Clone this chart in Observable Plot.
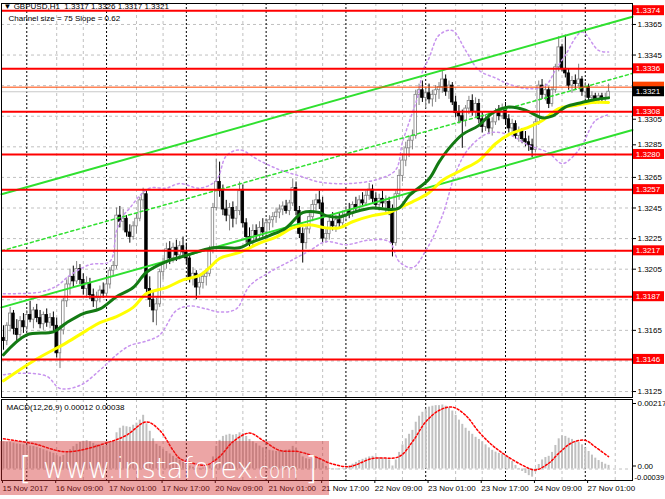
<!DOCTYPE html>
<html>
<head>
<meta charset="utf-8">
<script src="https://cdn.jsdelivr.net/npm/d3@7"></script>
<script src="https://cdn.jsdelivr.net/npm/@observablehq/plot@0.6"></script>
<style>
  body { margin: 0; background: #fff; }
  #chart { position: relative; width: 665px; height: 499px; overflow: hidden; font-family: "Liberation Sans", Arial, sans-serif; }
  #chart > div { position: absolute; left: 0; }
  #main { top: 0; }
  #macd { top: 397px; }
  #mark { top: 441px; width: 329px; height: 54px; background: rgba(210, 40, 40, 0.42); }
  #mark text { fill: #fff; font-family: "DejaVu Sans", sans-serif; font-weight: 200; }
</style>
</head>
<body>
<div id="chart">
  <div id="main"></div>
  <div id="macd"></div>
  <div id="mark">
    <svg width="329" height="54">
      <text y="37"><tspan x="19" y="38" font-size="32">[</tspan><tspan x="43" y="37" font-size="29" textLength="210" lengthAdjust="spacingAndGlyphs">www.instaforex</tspan><tspan x="253" font-size="22" textLength="45" lengthAdjust="spacingAndGlyphs">.com</tspan><tspan x="305" y="38" font-size="32">]</tspan></text>
    </svg>
  </div>
</div>
<script>
// GBPUSD H1, bar 0 = 15 Nov 2017 17:00 ... bar 182 = 27 Nov 07:00
const open = [
  1.3160,1.3158,1.3168,1.3176,1.3166,1.3162,1.3171,1.3167,1.3175,1.3172,
  1.3178,1.3173,1.3169,1.3175,1.3170,1.3173,1.3168,1.3150,1.3165,1.3184,
  1.3195,1.3200,1.3197,1.3205,1.3198,1.3192,1.3196,1.3188,1.3184,1.3186,
  1.3191,1.3189,1.3195,1.3204,1.3207,1.3240,1.3236,1.3238,1.3229,1.3226,
  1.3233,1.3238,1.3250,1.3254,1.3192,1.3185,1.3178,1.3182,1.3203,1.3209,
  1.3218,1.3212,1.3219,1.3214,1.3220,1.3216,1.3212,1.3199,1.3202,1.3193,
  1.3196,1.3200,1.3202,1.3218,1.3245,1.3262,1.3256,1.3244,1.3240,1.3245,
  1.3238,1.3243,1.3256,1.3235,1.3226,1.3222,1.3230,1.3227,1.3232,1.3229,
  1.3235,1.3237,1.3239,1.3242,1.3244,1.3246,1.3243,1.3248,1.3258,1.3243,
  1.3228,1.3222,1.3231,1.3239,1.3247,1.3250,1.3248,1.3225,1.3228,1.3236,
  1.3233,1.3237,1.3235,1.3240,1.3243,1.3241,1.3247,1.3245,1.3250,1.3248,
  1.3253,1.3257,1.3251,1.3247,1.3251,1.3248,1.3249,1.3244,1.3222,1.3254,
  1.3266,1.3276,1.3284,1.3289,1.3292,1.3319,1.3322,1.3317,1.3320,1.3316,
  1.3319,1.3322,1.3324,1.3329,1.3321,1.3325,1.3314,1.3307,1.3305,1.3302,
  1.3310,1.3315,1.3308,1.3313,1.3303,1.3298,1.3303,1.3297,1.3301,1.3307,
  1.3305,1.3310,1.3303,1.3297,1.3300,1.3292,1.3295,1.3290,1.3288,1.3286,
  1.3283,1.3301,1.3325,1.3319,1.3322,1.3313,1.3322,1.3337,1.3350,1.3336,
  1.3333,1.3325,1.3328,1.3326,1.3329,1.3321,1.3324,1.3317,1.3318,1.3315,
  1.3318,1.3316,1.3317
]
const high = [
  1.3168,1.3170,1.3180,1.3178,1.3172,1.3174,1.3176,1.3178,1.3184,1.3180,
  1.3182,1.3178,1.3177,1.3179,1.3176,1.3177,1.3173,1.3168,1.3186,1.3198,
  1.3205,1.3207,1.3210,1.3208,1.3202,1.3200,1.3199,1.3192,1.3190,1.3194,
  1.3196,1.3198,1.3206,1.3210,1.3245,1.3246,1.3244,1.3240,1.3234,1.3236,
  1.3241,1.3252,1.3258,1.3256,1.3200,1.3190,1.3186,1.3205,1.3212,1.3222,
  1.3223,1.3222,1.3224,1.3223,1.3226,1.3222,1.3214,1.3206,1.3204,1.3200,
  1.3203,1.3205,1.3220,1.3248,1.3277,1.3275,1.3260,1.3250,1.3248,1.3249,
  1.3246,1.3262,1.3260,1.3238,1.3232,1.3234,1.3234,1.3236,1.3238,1.3238,
  1.3240,1.3242,1.3245,1.3247,1.3249,1.3250,1.3250,1.3264,1.3262,1.3246,
  1.3232,1.3234,1.3242,1.3250,1.3254,1.3256,1.3252,1.3232,1.3240,1.3242,
  1.3240,1.3242,1.3243,1.3246,1.3248,1.3249,1.3252,1.3253,1.3255,1.3256,
  1.3261,1.3260,1.3255,1.3254,1.3256,1.3253,1.3252,1.3247,1.3256,1.3270,
  1.3280,1.3288,1.3292,1.3296,1.3322,1.3326,1.3328,1.3324,1.3326,1.3322,
  1.3325,1.3327,1.3335,1.3332,1.3328,1.3327,1.3318,1.3312,1.3309,1.3312,
  1.3318,1.3319,1.3317,1.3316,1.3308,1.3306,1.3307,1.3304,1.3310,1.3312,
  1.3313,1.3314,1.3306,1.3303,1.3302,1.3298,1.3297,1.3295,1.3292,1.3290,
  1.3303,1.3328,1.3329,1.3326,1.3324,1.3324,1.3339,1.3357,1.3352,1.3358,
  1.3336,1.3331,1.3332,1.3339,1.3331,1.3327,1.3326,1.3321,1.3320,1.3320,
  1.3320,1.3320,1.3326
]
const low = [
  1.3152,1.3155,1.3164,1.3162,1.3158,1.3160,1.3163,1.3165,1.3170,1.3166,
  1.3170,1.3166,1.3165,1.3167,1.3166,1.3164,1.3147,1.3140,1.3162,1.3180,
  1.3188,1.3193,1.3195,1.3195,1.3188,1.3186,1.3185,1.3180,1.3178,1.3183,
  1.3186,1.3187,1.3192,1.3200,1.3205,1.3232,1.3230,1.3226,1.3222,1.3224,
  1.3228,1.3236,1.3244,1.3188,1.3180,1.3170,1.3168,1.3180,1.3198,1.3205,
  1.3208,1.3209,1.3210,1.3211,1.3212,1.3208,1.3196,1.3194,1.3185,1.3188,
  1.3192,1.3194,1.3200,1.3215,1.3243,1.3252,1.3240,1.3236,1.3230,1.3232,
  1.3234,1.3240,1.3232,1.3222,1.3218,1.3220,1.3224,1.3225,1.3226,1.3227,
  1.3230,1.3232,1.3235,1.3238,1.3240,1.3241,1.3240,1.3246,1.3240,1.3225,
  1.3209,1.3218,1.3228,1.3236,1.3243,1.3244,1.3222,1.3222,1.3224,1.3230,
  1.3229,1.3232,1.3233,1.3236,1.3238,1.3239,1.3242,1.3243,1.3246,1.3246,
  1.3250,1.3248,1.3244,1.3243,1.3245,1.3242,1.3240,1.3213,1.3220,1.3250,
  1.3262,1.3272,1.3278,1.3283,1.3290,1.3312,1.3314,1.3310,1.3313,1.3311,
  1.3314,1.3316,1.3320,1.3318,1.3316,1.3312,1.3304,1.3300,1.3284,1.3298,
  1.3306,1.3305,1.3304,1.3300,1.3294,1.3295,1.3293,1.3292,1.3299,1.3302,
  1.3303,1.3300,1.3294,1.3293,1.3290,1.3288,1.3287,1.3285,1.3282,1.3278,
  1.3281,1.3299,1.3316,1.3315,1.3310,1.3311,1.3320,1.3334,1.3334,1.3330,
  1.3322,1.3320,1.3322,1.3324,1.3318,1.3316,1.3314,1.3313,1.3313,1.3313,
  1.3314,1.3313,1.3317
]
const close = [
  1.3158,1.3168,1.3176,1.3166,1.3162,1.3171,1.3167,1.3175,1.3172,1.3178,
  1.3173,1.3169,1.3175,1.3170,1.3173,1.3168,1.3150,1.3165,1.3184,1.3195,
  1.3200,1.3197,1.3205,1.3198,1.3192,1.3196,1.3188,1.3184,1.3186,1.3191,
  1.3189,1.3195,1.3204,1.3207,1.3240,1.3236,1.3238,1.3229,1.3226,1.3233,
  1.3238,1.3250,1.3254,1.3192,1.3185,1.3178,1.3182,1.3203,1.3209,1.3218,
  1.3212,1.3219,1.3214,1.3220,1.3216,1.3212,1.3199,1.3202,1.3193,1.3196,
  1.3200,1.3202,1.3218,1.3245,1.3262,1.3256,1.3244,1.3240,1.3245,1.3238,
  1.3243,1.3256,1.3235,1.3226,1.3222,1.3230,1.3227,1.3232,1.3229,1.3235,
  1.3237,1.3239,1.3242,1.3244,1.3246,1.3243,1.3248,1.3258,1.3243,1.3228,
  1.3222,1.3231,1.3239,1.3247,1.3250,1.3248,1.3225,1.3228,1.3236,1.3233,
  1.3237,1.3235,1.3240,1.3243,1.3241,1.3247,1.3245,1.3250,1.3248,1.3253,
  1.3257,1.3251,1.3247,1.3251,1.3248,1.3249,1.3244,1.3222,1.3254,1.3266,
  1.3276,1.3284,1.3289,1.3292,1.3319,1.3322,1.3317,1.3320,1.3316,1.3319,
  1.3322,1.3324,1.3329,1.3321,1.3325,1.3314,1.3307,1.3305,1.3302,1.3310,
  1.3315,1.3308,1.3313,1.3303,1.3298,1.3303,1.3297,1.3301,1.3307,1.3305,
  1.3310,1.3303,1.3297,1.3300,1.3292,1.3295,1.3290,1.3288,1.3286,1.3283,
  1.3301,1.3325,1.3319,1.3322,1.3313,1.3322,1.3337,1.3350,1.3336,1.3333,
  1.3325,1.3328,1.3326,1.3329,1.3321,1.3324,1.3317,1.3318,1.3315,1.3318,
  1.3316,1.3317,1.3321
]

// moving averages and bands at sample bars
const greenBars = [0,7,15,19,24,29,34,39,43,49,55,63,71,74,80,85,90,95,97,101,105,111,116,119,122,128,131,134,138,143,147,152,157,162,165,169,174,178,182]
const greenMa = [1.3149,1.3162,1.3164,1.3170,1.3176,1.3179,1.3187,1.3193,1.3203,1.3210,1.3214,1.3219,1.3219,1.3222,1.3227,1.3232,1.3242,1.3242,1.3240,1.3239,1.3242,1.3245,1.3244,1.3245,1.3253,1.3264,1.3275,1.3284,1.3293,1.3299,1.3307,1.3311,1.3309,1.3304,1.3305,1.3311,1.3314,1.3316,1.3317]
const yellowBars = [0,9,19,25,29,34,39,43,49,54,59,62,65,71,77,82,87,92,97,101,105,111,116,119,123,128,132,138,143,148,152,157,162,167,172,177,182]
const yellowMa = [1.3132,1.3145,1.3157,1.3165,1.3170,1.3174,1.3180,1.3189,1.3193,1.3198,1.3201,1.3206,1.3212,1.3216,1.3222,1.3226,1.3232,1.3234,1.3232,1.3232,1.3236,1.3240,1.3242,1.3245,1.3249,1.3255,1.3263,1.3270,1.3276,1.3287,1.3293,1.3297,1.3302,1.3310,1.3312,1.3314,1.3314]
const upperBars = [0,11,16,20,26,32,34,36,38,41,44,49,53,59,64,67,71,77,83,89,95,104,113,118,120,122,125,126,128,131,135,139,143,148,152,158,163,166,169,174,179,182]
const upperBand = [1.3189,1.3190,1.3194,1.3201,1.3208,1.3210,1.3230,1.3240,1.3245,1.3253,1.3258,1.3258,1.3261,1.3258,1.3263,1.3279,1.3283,1.3276,1.3270,1.3266,1.3262,1.3261,1.3264,1.3270,1.3288,1.3301,1.3321,1.3334,1.3343,1.3358,1.3361,1.3348,1.3335,1.3330,1.3326,1.3323,1.3325,1.3335,1.3345,1.3360,1.3348,1.3347]
const lowerBars = [0,5,13,17,23,29,34,38,43,47,52,56,61,65,70,74,80,86,92,97,103,110,116,119,123,127,132,136,140,146,152,158,164,168,171,174,178,182]
const lowerBand = [1.3136,1.3137,1.3135,1.3127,1.3129,1.3139,1.3149,1.3155,1.3158,1.3162,1.3178,1.3181,1.3179,1.3177,1.3179,1.3194,1.3203,1.3210,1.3217,1.3223,1.3221,1.3224,1.3223,1.3210,1.3206,1.3217,1.3240,1.3268,1.3284,1.3294,1.3293,1.3286,1.3281,1.3274,1.3278,1.3286,1.3302,1.3306]

// regression channel (slope 0.62), ends at the chart edges
const chanBars = [-0.6, 189.2]
const chanUpper = [1.3254, 1.3370]
const chanMid = [1.3217, 1.3333]
const chanLower = [1.3180, 1.3296]

const levels = [1.3374, 1.3336, 1.3308, 1.3280, 1.3257, 1.3217, 1.3187, 1.3146]
const askPrice = 1.3324
const bidPrice = 1.3321
const priceTicks = [1.3125, 1.3145, 1.3165, 1.3185, 1.3205, 1.3225, 1.3245, 1.3265, 1.3285, 1.3305, 1.3325, 1.3345, 1.3365]
// the ones covered by price boxes are left unlabelled, two sit just beside a box
const priceLabels = [1.3125, 1.3165, 1.3205, 1.3225, 1.3245, 1.3265, 1.3345, 1.3365]
const labelAboveBox = 1.3285
const labelBelowBox = 1.3305

const labelBars = [0, 16, 32, 48, 64, 80, 96, 112, 128, 144, 160, 176]
const labelText = ['15 Nov 2017', '16 Nov 09:00', '17 Nov 01:00', '17 Nov 17:00', '20 Nov 09:00', '21 Nov 01:00',
  '21 Nov 17:00', '22 Nov 09:00', '23 Nov 01:00', '23 Nov 17:00', '24 Nov 09:00', '27 Nov 01:00']
const gridBars = [16, 24, 40, 48, 64, 72, 88, 96, 112, 120, 136, 144, 160, 168, 184]
const dayBars = [7, 31, 55, 79, 103, 127, 151, 175]

// MACD(12,26,9)
const macd = [
  0.00090,0.00088,0.00089,0.00086,0.00083,0.00082,0.00080,0.00078,0.00076,0.00075,
  0.00072,0.00068,0.00064,0.00060,0.00056,0.00052,0.00044,0.00040,0.00045,0.00054,
  0.00064,0.00074,0.00082,0.00088,0.00092,0.00094,0.00090,0.00085,0.00080,0.00078,
  0.00076,0.00078,0.00084,0.00090,0.00120,0.00135,0.00142,0.00140,0.00138,0.00145,
  0.00152,0.00162,0.00178,0.00150,0.00125,0.00100,0.00082,0.00075,0.00065,0.00058,
  0.00050,0.00042,0.00035,0.00028,0.00022,0.00015,0.00010,0.00006,0.00003,0.00002,
  0.00003,0.00006,0.00012,0.00040,0.00075,0.00095,0.00108,0.00112,0.00115,0.00112,
  0.00114,0.00120,0.00118,0.00108,0.00098,0.00090,0.00084,0.00076,0.00070,0.00066,
  0.00062,0.00060,0.00058,0.00058,0.00060,0.00062,0.00064,0.00075,0.00068,0.00052,
  0.00040,0.00034,0.00032,0.00035,0.00036,0.00034,0.00020,0.00008,0.00002,-0.00002,
  -0.00003,-0.00002,0.00002,0.00006,0.00010,0.00016,0.00022,0.00028,0.00032,0.00036,
  0.00040,0.00042,0.00040,0.00038,0.00036,0.00034,0.00030,0.00010,0.00030,0.00055,
  0.00080,0.00100,0.00115,0.00128,0.00155,0.00175,0.00188,0.00198,0.00205,0.00208,
  0.00210,0.00210,0.00212,0.00208,0.00202,0.00192,0.00178,0.00162,0.00148,0.00135,
  0.00125,0.00115,0.00105,0.00098,0.00090,0.00080,0.00070,0.00062,0.00056,0.00052,
  0.00050,0.00045,0.00038,0.00025,0.00012,0.00002,-0.00008,-0.00015,-0.00022,-0.00027,
  -0.00010,0.00015,0.00030,0.00038,0.00042,0.00055,0.00078,0.00100,0.00110,0.00108,
  0.00102,0.00098,0.00092,0.00088,0.00080,0.00070,0.00058,0.00046,0.00036,0.00028,
  0.00022,0.00016,0.00012
]
const signalBars = [0,9,19,32,37,43,47,51,53,57,61,65,69,74,78,83,89,95,98,104,111,119,123,127,131,135,139,143,147,151,156,160,164,167,171,175,178,182]
const signalVals = [0.00100,0.00084,0.00057,0.00090,0.00112,0.00156,0.00128,0.00062,0.00035,0.00019,0.00013,0.00041,0.00090,0.00119,0.00095,0.00062,0.00057,0.00035,0.00020,0.00008,0.00035,0.00041,0.00090,0.00156,0.00194,0.00205,0.00178,0.00123,0.00079,0.00046,0.00013,-0.00003,0.00019,0.00052,0.00087,0.00095,0.00073,0.00041]

const pts = (xs, ys) => xs.map((x, k) => ({x, y: ys[k]}))
const bars = close.map((c, i) => ({i, o: open[i], h: high[i], l: low[i], c}))
const up = bars.filter(d => d.c >= d.o)
const down = bars.filter(d => d.c < d.o)

const xDomain = [-0.6, 189.2]
const font = {fontFamily: '"Liberation Sans", Arial, sans-serif', fontSize: '8px', background: 'transparent', overflow: 'visible'}
const grid = {stroke: '#c0c0c0', strokeDasharray: '3,3'}
const sep = {stroke: '#000', strokeDasharray: '2,2'}
const band = {x: 'x', y: 'y', stroke: '#c894ee', strokeDasharray: '2,3', curve: 'catmull-rom'}
const priceAxis = {anchor: 'right', tickFormat: d3.format('.4f'), tickSize: 3, tickPadding: 2, label: null}

let main = Plot.plot({
  width: 665,
  height: 398,
  marginLeft: 1, marginRight: 33, marginTop: 3, marginBottom: 1,
  x: {domain: xDomain, axis: null},
  y: {domain: [1.31211, 1.33787]},
  style: font,
  marks: [
    Plot.ruleY(priceTicks, grid),
    Plot.ruleX(gridBars, grid),
    Plot.ruleX(dayBars, sep),
    Plot.ruleY([bidPrice], {stroke: '#c8c8c8'}),
    // candles
    Plot.ruleX(up, {x: 'i', y1: 'l', y2: 'h', stroke: '#808080'}),
    Plot.ruleX(down, {x: 'i', y1: 'l', y2: 'h', stroke: '#000'}),
    Plot.rect(up, {x1: d => d.i - 0.38, x2: d => d.i + 0.38, y1: 'o', y2: 'c', fill: '#fff', stroke: '#808080', strokeWidth: 0.8}),
    Plot.rect(down, {x1: d => d.i - 0.38, x2: d => d.i + 0.38, y1: 'o', y2: 'c', fill: '#000', stroke: '#000', strokeWidth: 0.8}),
    // bands
    Plot.line(pts(upperBars, upperBand), band),
    Plot.line(pts(lowerBars, lowerBand), band),
    // channel
    Plot.line(pts(chanBars, chanUpper), {x: 'x', y: 'y', stroke: '#2fe02f', strokeWidth: 2}),
    Plot.line(pts(chanBars, chanLower), {x: 'x', y: 'y', stroke: '#2fe02f', strokeWidth: 2}),
    Plot.line(pts(chanBars, chanMid), {x: 'x', y: 'y', stroke: '#2fe02f', strokeDasharray: '3,3'}),
    // moving averages
    Plot.line(pts(yellowBars, yellowMa), {x: 'x', y: 'y', stroke: '#ffff00', strokeWidth: 3, curve: 'catmull-rom'}),
    Plot.line(pts(greenBars, greenMa), {x: 'x', y: 'y', stroke: '#137a13', strokeWidth: 3, curve: 'catmull-rom'}),
    // levels
    Plot.ruleY(levels, {stroke: '#ff0000', strokeWidth: 2}),
    Plot.ruleY([askPrice], {stroke: '#ff4500'}),
    Plot.axisY({...priceAxis, ticks: priceLabels}),
    Plot.axisY({...priceAxis, ticks: [labelAboveBox], dy: -2}),
    Plot.axisY({...priceAxis, ticks: [labelBelowBox], dy: 3}),
    Plot.frame({stroke: '#000'}),
    Plot.text(['\u25BC GBPUSD,H1  1.3317 1.3326 1.3317 1.3321'], {text: d => d, frameAnchor: 'top-left', dx: 2, dy: 0, lineAnchor: 'top', textAnchor: 'start'}),
    Plot.text(['Channel size = 75 Slope = 0.62'], {text: d => d, frameAnchor: 'top-left', dx: 7, dy: 12, lineAnchor: 'top', textAnchor: 'start'}),
  ]
})
d3.select('#main').append(() => main)

// price boxes on the right scale (the ask box sits mostly under the bid box)
const ys = main.scale('y')
const boxItems = levels.map(v => ({v, fill: '#ff0000', label: true}))
  .concat([{v: askPrice, fill: '#ff4500', label: false}, {v: bidPrice, fill: '#000', label: true}])
d3.select(main).append('g')
  .attr('font-size', 8)
  .selectAll('g').data(boxItems).join('g')
  .each(function (d) {
    const g = d3.select(this), y = ys.apply(d.v)
    g.append('rect').attr('x', 633).attr('y', y - 5).attr('width', 31).attr('height', 10).attr('fill', d.fill)
    if (d.label) g.append('text').attr('x', 648).attr('y', y).attr('dy', '0.35em')
      .attr('text-anchor', 'middle').attr('fill', '#fff').text(d.v.toFixed(4))
  })

let lower = Plot.plot({
  width: 665,
  height: 102,
  marginLeft: 1, marginRight: 33, marginTop: 2, marginBottom: 19,
  x: {domain: xDomain},
  y: {domain: [-0.000381, 0.002303]},
  style: font,
  marks: [
    Plot.ruleX(gridBars, grid),
    Plot.ruleX(dayBars, sep),
    Plot.ruleY([0], grid),
    Plot.ruleX(macd.map((v, i) => ({i, v})), {x: 'i', y1: 0, y2: 'v', stroke: '#c0c0c0', strokeWidth: 2}),
    Plot.line(pts(signalBars, signalVals), {x: 'x', y: 'y', stroke: '#ff0000', strokeDasharray: '2,2', curve: 'catmull-rom'}),
    Plot.axisY({anchor: 'right', ticks: [0.00217], tickFormat: () => '0.00217', tickSize: 3, tickPadding: 2, label: null}),
    Plot.axisY({anchor: 'right', ticks: [0], tickFormat: () => '0.00', tickSize: 3, tickPadding: 2, dy: -3, label: null}),
    Plot.text(['-0.00039'], {text: d => d, frameAnchor: 'bottom-right', dx: 2, dy: -1, textAnchor: 'start', fontSize: 7.5}),
    Plot.axisX({ticks: labelBars, tickFormat: d => labelText[labelBars.indexOf(d)], tickSize: 3, tickPadding: 2, textAnchor: 'start', dx: -1, label: null}),
    Plot.frame({stroke: '#000'}),
    Plot.text(['MACD(12,26,9) 0.00012 0.00038'], {text: d => d, frameAnchor: 'top-left', dx: 5, dy: 5, lineAnchor: 'top', textAnchor: 'start'}),
  ]
})
d3.select('#macd').append(() => lower)
</script>
</body>
</html>
